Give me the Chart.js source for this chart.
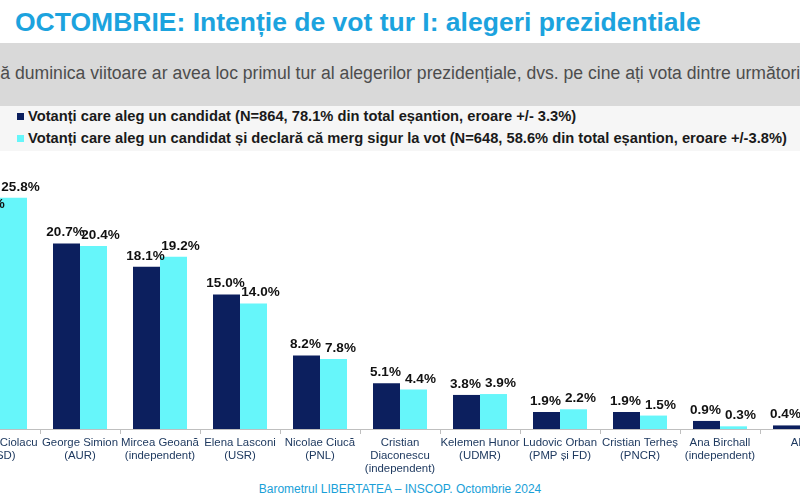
<!DOCTYPE html>
<html>
<head>
<meta charset="utf-8">
<script src="https://cdn.jsdelivr.net/npm/chart.js@4"></script>
<style>
    body { margin: 0; width: 800px; height: 500px; overflow: hidden; background: #fff; position: relative; font-family: "Liberation Sans", Arial, sans-serif; }
    #title { position: absolute; left: 15px; top: 7px; font-size: 26.5px; font-weight: bold; color: #1ca3de; white-space: nowrap; }
    #band { position: absolute; left: 0; top: 43px; width: 800px; height: 63px; background: #d9d9d9; }
    #question { position: absolute; left: -32px; top: 63px; font-size: 17.6px; color: #4d4d4d; white-space: nowrap; }
    #legend { position: absolute; left: 0; top: 106px; width: 800px; height: 45px; background: #f6f6f6; }
    .row { position: absolute; left: 17px; font-size: 14.7px; font-weight: bold; color: #1a1a1a; white-space: nowrap; }
    .box { display: inline-block; width: 7px; height: 7px; margin-right: 4px; vertical-align: 1px; }
    #wrap { position: absolute; left: -40px; top: 150px; width: 880px; height: 327px; }
    #footer { position: absolute; left: 0; width: 800px; top: 482px; text-align: center; font-size: 12px; color: #1a9fd8; }
</style>
</head>
<body>
<div id="title">OCTOMBRIE: Intenție de vot tur I: alegeri prezidentiale</div>
<div id="band"></div>
<div id="question"><span id="cut">Dac</span>ă duminica viitoare ar avea loc primul tur al alegerilor prezidențiale, dvs. pe cine ați vota dintre următorii candidați?</div>
<div id="legend"></div>
<div id="wrap"><canvas id="chart"></canvas></div>
<div id="footer">Barometrul LIBERTATEA – INSCOP. Octombrie 2024</div>
<script>
const candidates = [
    ['Marcel Ciolacu', '(PSD)'],
    ['George Simion', '(AUR)'],
    ['Mircea Geoană', '(independent)'],
    ['Elena Lasconi', '(USR)'],
    ['Nicolae Ciucă', '(PNL)'],
    ['Cristian', 'Diaconescu', '(independent)'],
    ['Kelemen Hunor', '(UDMR)'],
    ['Ludovic Orban', '(PMP și FD)'],
    ['Cristian Terheș', '(PNCR)'],
    ['Ana Birchall', '(independent)'],
    ['Alții']
];
const allVoters = [23.9, 20.7, 18.1, 15.0, 8.2, 5.1, 3.8, 1.9, 1.9, 0.9, 0.4];
const sureVoters = [25.8, 20.4, 19.2, 14.0, 7.8, 4.4, 3.9, 2.2, 1.5, 0.3, 0.5];
const seriesNames = [
    'Votanți care aleg un candidat (N=864, 78.1% din total eșantion, eroare +/- 3.3%)',
    'Votanți care aleg un candidat și declară că merg sigur la vot (N=648, 58.6% din total eșantion, eroare +/-3.8%)'
];
const colors = ['#0c1f5e', '#66f6fa'];

// the slide is cropped on the left, hide the first letters of the question
document.getElementById('question').style.left = (-document.getElementById('cut').offsetWidth) + 'px';

// legend in html
const legendEl = document.getElementById('legend');
seriesNames.forEach((name, i) => {
    const row = document.createElement('div');
    row.className = 'row';
    row.style.top = (2 + i * 22) + 'px';
    row.innerHTML = '<span class="box" style="background:' + colors[i] + '"></span>' + name;
    legendEl.appendChild(row);
});

// value labels, the light series is nudged right like on the slide
const labelShift = [-1, 7];
const valueLabels = {
    id: 'valueLabels',
    afterDatasetsDraw(chart) {
        const c = chart.ctx;
        c.save();
        c.font = 'bold 13.5px "Liberation Sans", Arial, sans-serif';
        c.fillStyle = '#111';
        c.textAlign = 'center';
        c.textBaseline = 'bottom';
        chart.data.datasets.forEach((ds, i) => {
            chart.getDatasetMeta(i).data.forEach((bar, j) => {
                c.fillText(ds.data[j].toFixed(1) + '%', bar.x + labelShift[i], bar.y - 4);
            });
        });
        c.restore();
    }
};

new Chart(document.getElementById('chart'), {
    type: 'bar',
    data: {
        labels: candidates,
        datasets: [
            { label: seriesNames[0], data: allVoters, backgroundColor: colors[0] },
            { label: seriesNames[1], data: sureVoters, backgroundColor: colors[1] }
        ]
    },
    options: {
        responsive: true,
        maintainAspectRatio: false,
        animation: false,
        categoryPercentage: 0.675,
        barPercentage: 1,
        layout: { padding: { top: 10, left: 0, right: 0, bottom: 0 } },
        plugins: {
            legend: { display: false },
            tooltip: { enabled: false }
        },
        scales: {
            x: {
                grid: { drawOnChartArea: false, drawTicks: true, tickLength: 5, color: '#bfbfbf' },
                border: { display: true, color: '#bfbfbf' },
                ticks: {
                    color: '#1f3a60',
                    padding: 2,
                    maxRotation: 0,
                    autoSkip: false,
                    font: { family: '"Liberation Sans", Arial, sans-serif', size: 11.4, lineHeight: 1.14 }
                }
            },
            y: {
                display: false,
                min: 0,
                max: 30
            }
        }
    },
    plugins: [valueLabels]
});
</script>
</body>
</html>
